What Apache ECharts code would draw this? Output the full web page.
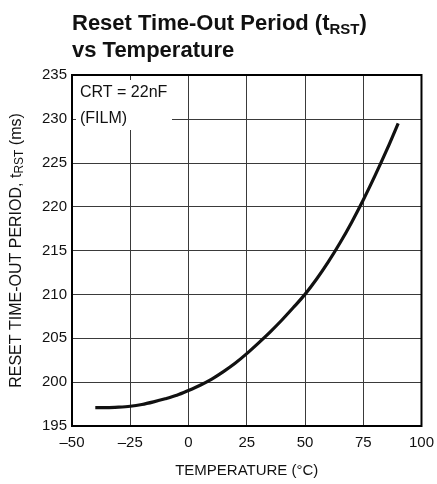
<!DOCTYPE html>
<html><head><meta charset="utf-8">
<script src="https://cdn.jsdelivr.net/npm/echarts@6/dist/echarts.min.js"></script>
<style>html,body{margin:0;padding:0;background:#fff}#c{width:437px;height:484px}</style>
</head><body><div id="c"></div>
<script>
const temperatures = [-40, -35, -30, -25, -20, -15, -10, -5, 0, 5, 10, 15, 20, 25, 30, 35, 40, 45, 50, 55, 60, 65, 70, 75, 80, 85, 90];
const resetPeriod = [197.1, 197.1, 197.15, 197.25, 197.45, 197.75, 198.1, 198.5, 199.05, 199.65, 200.35, 201.2, 202.15, 203.25, 204.45, 205.7, 207.05, 208.5, 210.0, 211.75, 213.7, 215.85, 218.2, 220.75, 223.5, 226.4, 229.5];
const xTicks = [-50, -25, 0, 25, 50, 75, 100];
const yTicks = [195, 200, 205, 210, 215, 220, 225, 230, 235];

const FONT = '"Liberation Sans Narrow", "Arial Narrow", "Liberation Sans", sans-serif';
const chart = echarts.init(document.getElementById('c'), null, {renderer: 'canvas'});
const gridColor = '#3a3a3a';
chart.setOption({
  animation: false,
  backgroundColor: '#fff',
  title: {
    text: '{a|Reset Time-Out Period (t}{s|RST}{a|)}\n{a|vs Temperature}',
    left: 67, top: 5,
    textStyle: {
      rich: {
        a: {fontFamily: FONT, fontWeight: 'bold', fontSize: 22, color: '#111', lineHeight: 27},
        s: {fontFamily: FONT, fontWeight: 'bold', fontSize: 15, color: '#111', verticalAlign: 'bottom', padding: [12, 0, 0, 0], lineHeight: 27}
      }
    }
  },
  grid: {left: 72, right: 14, top: 75, bottom: 58, show: true, borderColor: '#000', borderWidth: 2, z: 3},
  xAxis: {
    type: 'value', min: -50, max: 100, interval: 25,
    axisLine: {show: false}, axisTick: {show: false},
    splitLine: {show: true, lineStyle: {color: gridColor, width: 1}},
    axisLabel: {fontFamily: FONT, fontSize: 15, color: '#111', margin: 9,
      formatter: v => String(v).replace('-', '\u2013')},
    name: 'TEMPERATURE (°C)', nameLocation: 'middle', nameGap: 37,
    nameTextStyle: {fontFamily: FONT, fontSize: 15, color: '#111'}
  },
  yAxis: {
    type: 'value', min: 195, max: 235, interval: 5,
    axisLine: {show: false}, axisTick: {show: false},
    splitLine: {show: true, lineStyle: {color: gridColor, width: 1}},
    axisLabel: {fontFamily: FONT, fontSize: 15, color: '#111', margin: 5},
    name: '{a|RESET TIME-OUT PERIOD, t}{s|RST}{a| (ms)}', nameLocation: 'middle', nameGap: 46,
    nameTextStyle: {rich: {
      a: {fontFamily: FONT, fontSize: 16, color: '#111'},
      s: {fontFamily: FONT, fontSize: 12, color: '#111', padding: [6, 0, 0, 0]}
    }}
  },
  graphic: [
    {type: 'rect', z: 100, shape: {x: 76, y: 80, width: 96, height: 50}, style: {fill: '#ffffff', stroke: null}},
    {type: 'text', z: 101, x: 80, y: 85, style: {text: 'CRT = 22nF', fontFamily: FONT, fontSize: 16, fill: '#111'}},
    {type: 'text', z: 101, x: 80, y: 111, style: {text: '(FILM)', fontFamily: FONT, fontSize: 16, fill: '#111'}}
  ],
  series: [{
    type: 'line', smooth: 0.3, showSymbol: false,
    data: temperatures.map((t, i) => [t, resetPeriod[i]]),
    lineStyle: {color: '#111', width: 3.2}
  }]
});
</script></body></html>
